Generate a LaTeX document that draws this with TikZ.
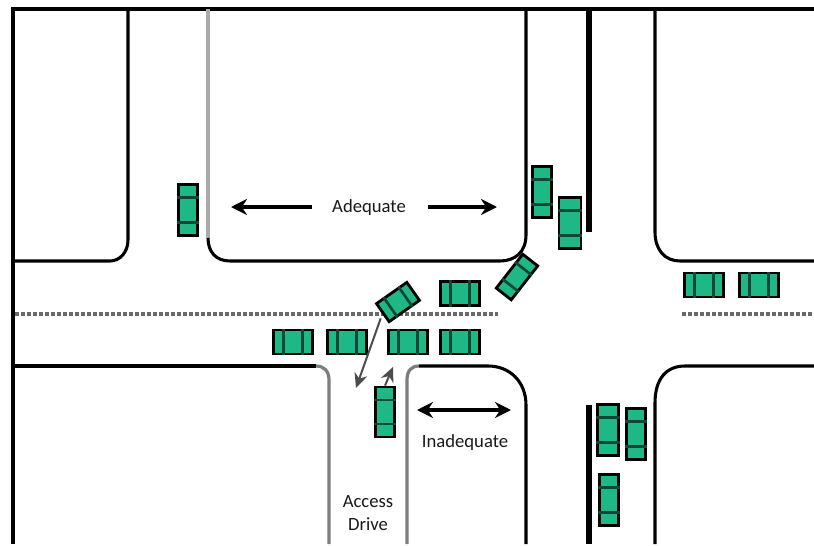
\documentclass[tikz,border=0pt]{standalone}
\usepackage{fontspec}
\setmainfont{Carlito}
\usetikzlibrary{arrows.meta,calc}
\definecolor{cargreen}{RGB}{30,184,135}
\definecolor{cardiv}{RGB}{15,70,55}
\definecolor{roadgray}{RGB}{170,170,170}
\definecolor{roadgrayd}{RGB}{125,125,125}
\definecolor{darkdash}{RGB}{105,105,105}
\tikzset{
  x=0.75pt,y=-0.75pt,
  kerb/.style={line width=2.3pt,black},
  kerbgray/.style={line width=3pt,roadgray},
  kerbmid/.style={line width=2.4pt,roadgrayd},
  median/.style={line width=4.2pt,black},
  centreline/.style={line width=2.6pt,darkdash,dash pattern=on 3.2pt off 1.3pt},
  carbody/.style={draw=black,fill=cargreen,line width=2.1pt,inner sep=0pt},
  cardivider/.style={cardiv,line width=2pt},
  dim/.style={line width=2.4pt,black,-{Stealth[length=12pt,width=12pt]}},
  dimboth/.style={line width=2.4pt,black,{Stealth[length=12pt,width=12pt]}-{Stealth[length=12pt,width=12pt]}},
  move/.style={line width=1.5pt,black!70,-{Stealth[length=11pt,width=10pt]}},
  lab/.style={font=\fontsize{14pt}{17.25pt}\selectfont,align=center,inner sep=0pt,text=black!90}
}
% name, x, y, angle, length, width (px)
\newcommand{\carat}[6]{%
  \node[carbody,rotate=#4,minimum width=#5*0.75pt,minimum height=#6*0.75pt] (#1) at (#2,#3) {};
  \draw[cardivider] ($(#1.south west)!0.27!(#1.south east)$) -- ($(#1.north west)!0.27!(#1.north east)$);
  \draw[cardivider] ($(#1.south west)!0.73!(#1.south east)$) -- ($(#1.north west)!0.73!(#1.north east)$);
}
\begin{document}
\begin{tikzpicture}
\useasboundingbox[fill=white] (0,0) rectangle (814,546);
% outer frame
\draw[kerb] (13,544) -- (13,9) -- (814,9);
% top-left block
\draw[kerb] (13,261) -- (110,261) .. controls (120,261) and (128,252) .. (128,240) -- (128,9);
% top-middle block
\draw[kerbgray] (208,9) -- (208,238);
\draw[kerb] (208,238) .. controls (208,252) and (216,261) .. (230,261) -- (500,261) .. controls (515,261) and (526,252) .. (526,235) -- (526,9);
% top right block
\draw[kerb] (814,261) -- (680,261) .. controls (665,261) and (655,250) .. (655,232) -- (655,9);
% median strips
\draw[median] (589,9) -- (589,232);
\draw[median] (589,405) -- (589,544);
% bottom-left block
\draw[kerb] (13,366) -- (316,366);
\draw[kerbmid] (316,366) .. controls (324,366) and (329,371) .. (329,380) -- (329,544);
% bottom-middle block
\draw[kerbmid] (407,544) -- (407,380) .. controls (407,371) and (411,366) .. (419,366);
\draw[kerb] (419,366) -- (488,366) .. controls (510,366) and (526,382) .. (526,405) -- (526,544);
% bottom-right block
\draw[kerb] (814,366) -- (685,366) .. controls (667,366) and (655,378) .. (655,403) -- (655,544);
% centre lines
\draw[centreline] (15,314) -- (498,314);
\draw[centreline] (682,314) -- (814,314);
% cars
\carat{c1}{293}{342}{0}{39}{24}
\carat{c2}{347}{342}{0}{39}{24}
\carat{c3}{408}{342}{0}{39}{24}
\carat{c4}{460}{342}{0}{39}{24}
\carat{c5}{460}{293.5}{0}{39}{24}
\carat{c6}{704}{285}{0}{39}{24}
\carat{c7}{759}{285}{0}{39}{24}
\carat{c8}{398}{302}{35}{37}{22}
\carat{c9}{517}{277}{52}{43}{19}
\carat{c10}{385}{412}{90}{50}{19}
\carat{c11}{188}{210}{90}{51}{19}
\carat{c12}{542}{192}{90}{51}{19}
\carat{c13}{570}{223}{90}{51}{22}
\carat{c14}{608}{430}{90}{51}{21}
\carat{c15}{636}{434}{90}{51}{19}
\carat{c16}{609}{500}{90}{51}{19}
% labels
\node[lab] (adq) at (369,207.5) {Adequate};
\node[lab] (inadq) at (465,442.5) {Inadequate};
\node[lab] (access) at (368,513.5) {Access\\Drive};
% dimension arrows
\coordinate (aL) at (231,207);
\coordinate (aR) at (497,207);
\coordinate (iL) at (417,410);
\coordinate (iR) at (511,410);
\draw[dim] (312,207) -- (aL);
\draw[dim] (428,207) -- (aR);
\draw[dimboth] (iL) -- (iR);
% movement arrows
\coordinate (m1) at (356,388);
\coordinate (m2) at (393,367);
\draw[move] (c8.west) ++(-1,5) -- (m1);
\draw[move] (c10.east) -- (m2);
\end{tikzpicture}
\end{document}
